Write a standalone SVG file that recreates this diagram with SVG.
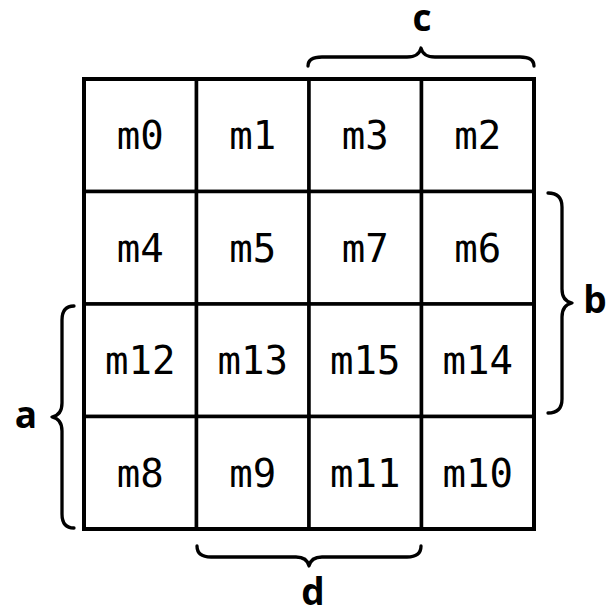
<svg xmlns="http://www.w3.org/2000/svg" width="616" height="613" viewBox="0 0 616 613">
<style>
.cell{fill:#fff;stroke:#000;stroke-width:3.5}
.t{font-family:"DejaVu Sans Mono","Liberation Mono",monospace;font-size:39px;text-anchor:middle;fill:#000}
.lbl{font-family:"Open Sans","Noto Sans","Liberation Sans",sans-serif;font-weight:bold;font-size:37px;text-anchor:middle;fill:#000}
.brace{fill:none;stroke:#000;stroke-width:3.3;stroke-linecap:round;stroke-linejoin:round}
</style>
<rect width="616" height="613" fill="#fff"/>
<g id="grid">
<g id="m0"><rect class="cell" x="84" y="79" width="112.5" height="112.5"/><text class="t" x="140.25" y="149">m0</text></g>
<g id="m1"><rect class="cell" x="196.5" y="79" width="112.5" height="112.5"/><text class="t" x="252.75" y="149">m1</text></g>
<g id="m3"><rect class="cell" x="309" y="79" width="112.5" height="112.5"/><text class="t" x="365.25" y="149">m3</text></g>
<g id="m2"><rect class="cell" x="421.5" y="79" width="112.5" height="112.5"/><text class="t" x="477.75" y="149">m2</text></g>
<g id="m4"><rect class="cell" x="84" y="191.5" width="112.5" height="112.5"/><text class="t" x="140.25" y="261.5">m4</text></g>
<g id="m5"><rect class="cell" x="196.5" y="191.5" width="112.5" height="112.5"/><text class="t" x="252.75" y="261.5">m5</text></g>
<g id="m7"><rect class="cell" x="309" y="191.5" width="112.5" height="112.5"/><text class="t" x="365.25" y="261.5">m7</text></g>
<g id="m6"><rect class="cell" x="421.5" y="191.5" width="112.5" height="112.5"/><text class="t" x="477.75" y="261.5">m6</text></g>
<g id="m12"><rect class="cell" x="84" y="304" width="112.5" height="112.5"/><text class="t" x="140.25" y="374">m12</text></g>
<g id="m13"><rect class="cell" x="196.5" y="304" width="112.5" height="112.5"/><text class="t" x="252.75" y="374">m13</text></g>
<g id="m15"><rect class="cell" x="309" y="304" width="112.5" height="112.5"/><text class="t" x="365.25" y="374">m15</text></g>
<g id="m14"><rect class="cell" x="421.5" y="304" width="112.5" height="112.5"/><text class="t" x="477.75" y="374">m14</text></g>
<g id="m8"><rect class="cell" x="84" y="416.5" width="112.5" height="112.5"/><text class="t" x="140.25" y="486.5">m8</text></g>
<g id="m9"><rect class="cell" x="196.5" y="416.5" width="112.5" height="112.5"/><text class="t" x="252.75" y="486.5">m9</text></g>
<g id="m11"><rect class="cell" x="309" y="416.5" width="112.5" height="112.5"/><text class="t" x="365.25" y="486.5">m11</text></g>
<g id="m10"><rect class="cell" x="421.5" y="416.5" width="112.5" height="112.5"/><text class="t" x="477.75" y="486.5">m10</text></g>
<rect x="84" y="79" width="450" height="450" fill="none" stroke="#000" stroke-width="4"/>
</g>
<g id="braces">
<path class="brace" d="M308,66 Q308,57 322,57 L407,57 Q419,57 421,48 Q423,57 435,57 L520,57 Q534,57 534,66"/>
<path class="brace" d="M548,193 Q562,193 562,207 L562,289 Q562,301 572,303 Q562,305 562,317 L562,399 Q562,413 548,413"/>
<path class="brace" d="M74,306 Q62,306 62,320 L62,403 Q62,415 52,417 Q62,419 62,431 L62,514 Q62,528 74,528"/>
<path class="brace" d="M197,546 Q197,557 211,557 L296,557 Q307,557 309,566 Q311,557 322,557 L407,557 Q421,557 421,546"/>
</g>
<g id="labels">
<text class="lbl" x="422" y="31">c</text>
<text class="lbl" x="595" y="313">b</text>
<text class="lbl" x="26" y="428">a</text>
<text class="lbl" x="313" y="605">d</text>
</g>
</svg>
